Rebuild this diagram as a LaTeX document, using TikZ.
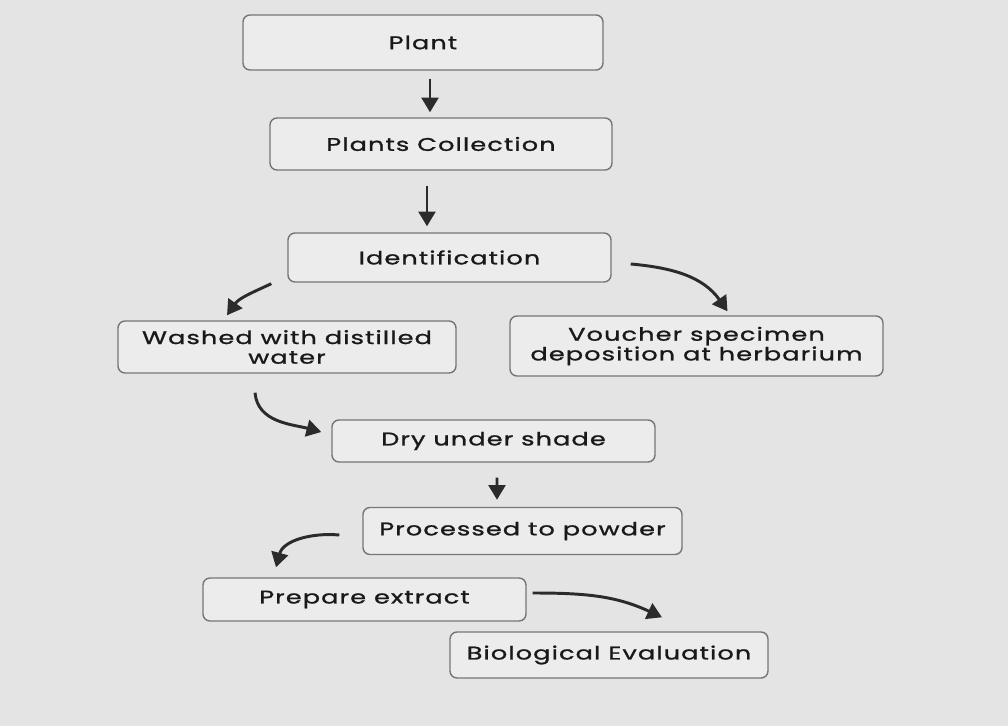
\documentclass[tikz,border=0pt]{standalone}
\usepackage{fontspec}
\setmainfont{Poppins}[FakeStretch=1.4,LetterSpace=6,FakeBold=1.2]
\usetikzlibrary{arrows.meta,positioning,calc}
\definecolor{bgcol}{HTML}{E4E4E4}
\definecolor{boxcol}{HTML}{ECECEC}
\definecolor{edgecol}{HTML}{767676}
\definecolor{flowcol}{HTML}{2B2B2B}

\begin{document}
\begin{tikzpicture}[x=0.025cm, y=0.025cm,
  stage/.style={draw=edgecol, fill=boxcol, line width=1pt, rounded corners=5pt,
    inner sep=0pt, align=center, text=black!90, font=\fontsize{13}{14}\selectfont},
  flow/.style={-{Triangle[length=10.5pt,width=12pt]}, draw=flowcol, line width=2.1pt}]
  \fill[bgcol] (0,0) rectangle (1008,726);
  \useasboundingbox (0,0) rectangle (1008,726);

  \node[stage, minimum width=360*0.025cm, minimum height=55*0.025cm] (plant)   at (423,683.5) {Plant};
  \node[stage, minimum width=342*0.025cm, minimum height=52*0.025cm] (collect) at (441,582)   {Plants Collection};
  \node[stage, minimum width=323*0.025cm, minimum height=49*0.025cm] (ident)   at (449.5,468.5) {Identification};
  \node[stage, minimum width=338*0.025cm, minimum height=52*0.025cm] (washed)  at (287,379)   {Washed with distilled\\water};
  \node[stage, minimum width=373*0.025cm, minimum height=60*0.025cm] (voucher) at (696.5,380) {Voucher specimen\\deposition at herbarium};
  \node[stage, minimum width=323*0.025cm, minimum height=42*0.025cm] (dry)     at (493.5,285) {Dry under shade};
  \node[stage, minimum width=319*0.025cm, minimum height=47*0.025cm] (powder)  at (522.5,195) {Processed to powder};
  \node[stage, minimum width=323*0.025cm, minimum height=43*0.025cm] (prepare) at (364.5,126.5) {Prepare extract};
  \node[stage, minimum width=318*0.025cm, minimum height=46*0.025cm] (bio)     at (609,71)    {Biological Evaluation};

  \draw[flow] ($(plant.south)+(7,-8)$) -- ($(collect.north)+(-11,5)$);
  \draw[flow] ($(collect.south)+(-14,-15)$) -- ($(ident.north)+(-22.5,6)$);
  \draw[flow] ($(ident.south west)+(-16,-1)$) to[out=205,in=55] ($(washed.north)+(-60,5)$);
  \draw[flow] ($(ident.east)+(19,-6.5)$) to[out=-5,in=125] ($(voucher.north)+(31,4)$);
  \draw[flow] ($(washed.south)+(-32,-19)$) to[out=-85,in=165] ($(dry.west)+(-10,9)$);
  \draw[flow] ($(dry.south)+(3.5,-15)$) -- ($(powder.north)+(-25.5,7)$);
  \draw[flow] ($(powder.west)+(-23,-4)$) to[out=175,in=75] ($(prepare.north)+(-88.5,10)$);
  \draw[flow] ($(prepare.east)+(6,6.5)$) to[out=0,in=155] ($(bio.north)+(53,14)$);
\end{tikzpicture}
\end{document}
